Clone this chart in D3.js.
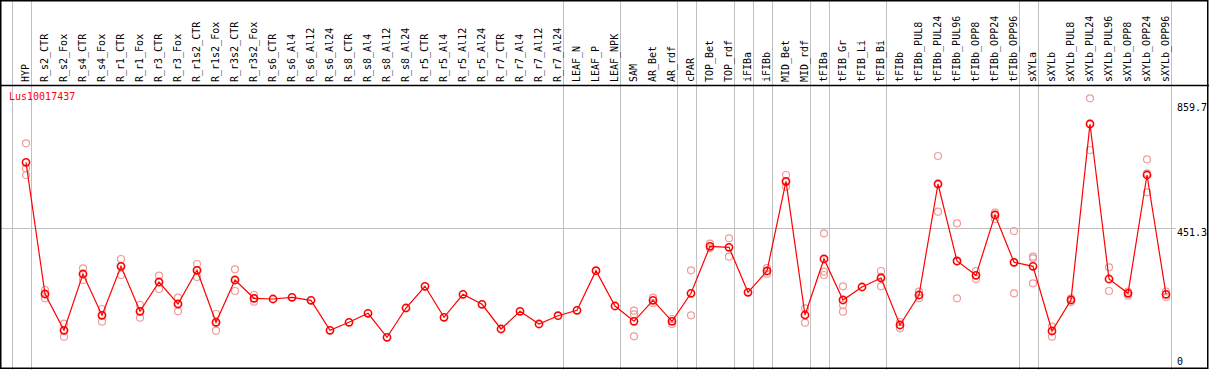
<!DOCTYPE html>
<html>
<head>
<meta charset="utf-8">
<script src="https://cdn.jsdelivr.net/npm/d3@7"></script>
<style>
  body { margin: 0; background: #fff; }
  text { font-family: "DejaVu Sans Mono", monospace; font-size: 10px; }
</style>
</head>
<body>
<div id="chart"></div>
<script>
// podaci
const geneName = "Lus10017437";

const categories = [
  "HYP", "R_s2_CTR", "R_s2_Fox", "R_s4_CTR", "R_s4_Fox", "R_r1_CTR", "R_r1_Fox",
  "R_r3_CTR", "R_r3_Fox", "R_r1s2_CTR", "R_r1s2_Fox", "R_r3s2_CTR", "R_r3s2_Fox",
  "R_s6_CTR", "R_s6_Al4", "R_s6_Al12", "R_s6_Al24", "R_s8_CTR", "R_s8_Al4",
  "R_s8_Al12", "R_s8_Al24", "R_r5_CTR", "R_r5_Al4", "R_r5_Al12", "R_r5_Al24",
  "R_r7_CTR", "R_r7_Al4", "R_r7_Al12", "R_r7_Al24", "LEAF_N", "LEAF_P", "LEAF_NPK",
  "SAM", "AR_Bet", "AR_rdf", "cPAR", "TOP_Bet", "TOP_rdf", "iFIBa", "iFIBb",
  "MID_Bet", "MID_rdf", "tFIBa", "tFIB_Gr", "tFIB_Li", "tFIB_Bi", "tFIBb",
  "tFIBb_PUL8", "tFIBb_PUL24", "tFIBb_PUL96", "tFIBb_OPP8", "tFIBb_OPP24", "tFIBb_OPP96",
  "sXYLa", "sXYLb", "sXYLb_PUL8", "sXYLb_PUL24", "sXYLb_PUL96", "sXYLb_OPP8",
  "sXYLb_OPP24", "sXYLb_OPP96"
];

// srednje vrijednosti
const means = [
  658.7, 245.0, 131.0, 307.8, 178.1, 332.0, 190.7, 282.7, 213.6, 319.5, 156.1, 289.0, 231.5,
  229.3, 234.6, 225.2, 131.0, 156.1, 184.4, 109.0, 201.0, 269.2, 171.8, 244.1, 212.7,
  135.1, 190.7, 150.8, 176.8, 193.8, 318.2, 207.3,
  159.3, 225.2, 159.3, 247.2, 394.8, 391.7, 250.3, 317.3, 599.0, 179.0, 355.0, 226.2,
  267.0, 295.3, 147.6, 241.9, 590.5, 348.7, 303.7, 493.2, 344.6,
  332.0, 128.8, 226.2, 779.0, 292.1, 247.2, 618.8, 244.1
];

// ponavljanja (replike)
const replicates = [
  [718.4, 639.8, 618.8], [257.6, 231.5, 245.0], [151.7, 110.9, 131.0], [325.7, 289.0, 307.8],
  [197.9, 158.0, 178.1], [355.0, 304.7, 332.0], [210.5, 170.6, 190.7], [302.5, 260.7, 282.7],
  [233.4, 190.7, 213.6], [339.2, 298.4, 319.5], [182.2, 129.7, 156.1], [322.6, 254.4, 289.0],
  [241.9, 231.5, 221.0],
  [], [], [], [], [], [], [], [], [], [], [], [], [], [], [], [], [], [], [],
  [192.5, 181.2, 112.1], [233.4, 216.7], [150.8, 166.5], [319.5, 178.1],
  [403.0, 388.6], [420.0, 362.2], [], [308.8, 326.7], [618.8, 582.1, 596.0],
  [200.1, 154.9], [435.7, 315.1, 304.7], [269.2, 210.5, 189.4], [],
  [317.3, 269.2, 299.0], [137.3, 157.0], [231.5, 252.2], [678.5, 503.5, 590.0],
  [467.1, 231.5, 347.0], [317.3, 292.1], [500.4, 480.6], [442.9, 247.2, 344.0],
  [362.2, 357.1, 278.6], [142.3, 110.9], [231.5, 219.9], [859.7, 697.3, 780.0],
  [328.9, 254.4], [252.2, 239.7], [668.1, 564.5, 624.0], [235.6, 252.9]
];

// sive okomite linije iza ovih kategorija (-1 = prije prve)
const groupEnds = [-1, 0, 28, 31, 34, 35, 37, 38, 39, 41, 42, 45, 52, 53, 60];

const yTicks = [0, 451.3, 859.7];
const yMax = 859.7;
const midLine = 451.3;

// dimenzije
const dim = {
  width: 1209,
  height: 370,
  header: 85,
  firstX: 26,
  lastX: 1166,
  zeroY: 372,
  maxY: 98.3
};

const svg = d3.select("#chart")
  .append("svg")
    .attr("width", dim.width)
    .attr("height", dim.height);

// mjerila
const x = d3.scalePoint()
  .domain(categories)
  .range([dim.firstX, dim.lastX]);
const step = x.step();

const y = d3.scaleLinear()
  .domain([0, yMax])
  .range([dim.zeroY, dim.maxY]);

// mreza
svg.append("g")
  .selectAll("line")
  .data(groupEnds)
  .join("line")
    .attr("x1", i => Math.round(dim.firstX + step * i + step / 4) + 0.5)
    .attr("x2", i => Math.round(dim.firstX + step * i + step / 4) + 0.5)
    .attr("y1", 0)
    .attr("y2", dim.height)
    .attr("stroke", "#c0c0c0")
    .attr("stroke-width", 1);

svg.append("line")
  .attr("x1", 0)
  .attr("x2", 1176)
  .attr("y1", Math.round(y(midLine)) + 0.5)
  .attr("y2", Math.round(y(midLine)) + 0.5)
  .attr("stroke", "#c0c0c0")
  .attr("stroke-width", 1);

// okvir
svg.append("line")
  .attr("x1", 0)
  .attr("x2", dim.width)
  .attr("y1", dim.header + 0.5)
  .attr("y2", dim.header + 0.5)
  .attr("stroke", "#000")
  .attr("stroke-width", 1.5);

svg.append("rect")
  .attr("x", 0.75)
  .attr("y", 0.75)
  .attr("width", 1207)
  .attr("height", 367.5)
  .attr("fill", "none")
  .attr("stroke", "#000")
  .attr("stroke-width", 1.5);

// oznake kategorija
svg.append("g")
  .selectAll("text")
  .data(categories)
  .join("text")
    .attr("transform", d => `translate(${x(d) + 3},${dim.header - 3}) rotate(-90)`)
    .attr("fill", "#000")
    .text(d => d);

// oznake y osi
svg.append("g")
  .selectAll("text")
  .data(yTicks)
  .join("text")
    .attr("x", 1177)
    .attr("y", d => Math.max(111, Math.min(365, y(d) + 7.5)))
    .attr("fill", "#000")
    .text(d => d);

// naziv gena
svg.append("text")
  .attr("x", 9)
  .attr("y", 100)
  .attr("fill", "#ff0000")
  .text(geneName);

// replike
const repPoints = [];
replicates.forEach((reps, i) => {
  reps.forEach(v => repPoints.push({ cat: categories[i], value: v }));
});

svg.append("g")
  .selectAll("circle")
  .data(repPoints)
  .join("circle")
    .attr("cx", d => x(d.cat))
    .attr("cy", d => y(d.value))
    .attr("r", 3.5)
    .attr("fill", "none")
    .attr("stroke", "#ee9c9c")
    .attr("stroke-width", 1.2);

// linija srednjih vrijednosti
const data = categories.map((c, i) => ({ cat: c, value: means[i] }));

const generatorLinije = d3.line()
  .x(d => x(d.cat))
  .y(d => y(d.value));

svg.append("path")
  .datum(data)
  .attr("d", generatorLinije)
  .attr("fill", "none")
  .attr("stroke", "#ff0000")
  .attr("stroke-width", 1.2);

svg.append("g")
  .selectAll("circle")
  .data(data)
  .join("circle")
    .attr("cx", d => x(d.cat))
    .attr("cy", d => y(d.value))
    .attr("r", 3.6)
    .attr("fill", "none")
    .attr("stroke", "#ff0000")
    .attr("stroke-width", 1.6);
</script>
</body>
</html>
